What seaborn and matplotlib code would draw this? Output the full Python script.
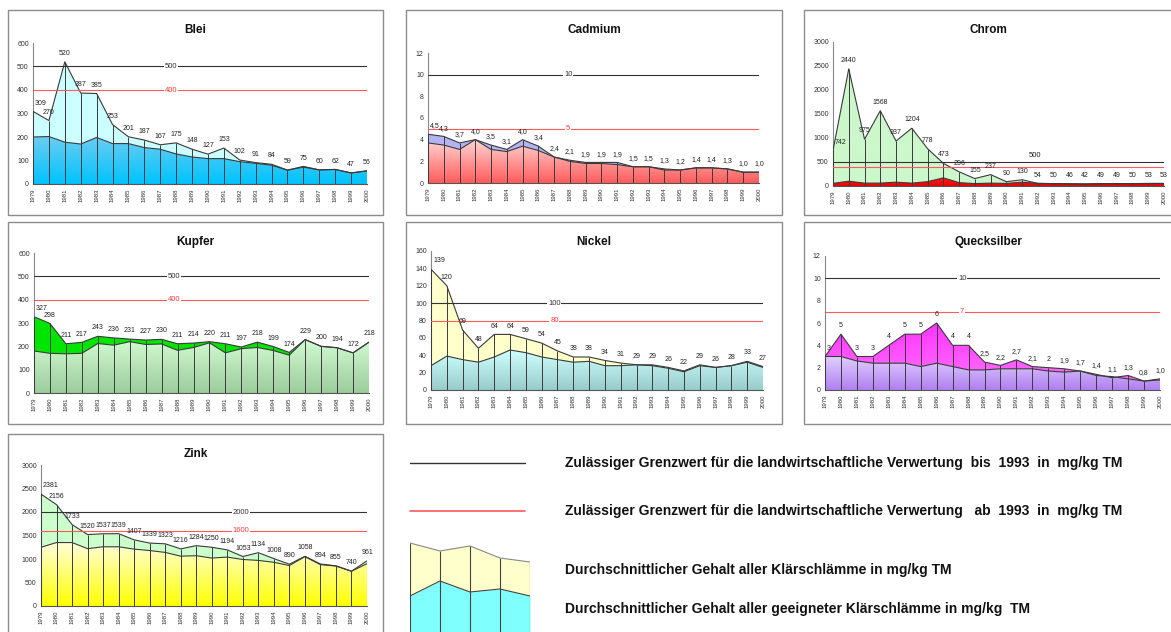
import numpy as np
import pandas as pd
import seaborn as sns
import matplotlib.pyplot as plt
from matplotlib.colors import LinearSegmentedColormap
from matplotlib.patches import Rectangle
from matplotlib.lines import Line2D

# Jahre 1979 - 2000
years = [1979, 1980, 1981, 1982, 1983, 1984, 1985, 1986, 1987, 1988, 1989,
         1990, 1991, 1992, 1993, 1994, 1995, 1996, 1997, 1998, 1999, 2000]

# Durchschnitt aller Klaerschlaemme / aller geeigneten Klaerschlaemme (mg/kg TM)
blei_alle = [309, 270, 520, 387, 385, 253, 201, 187, 167, 175, 148, 127, 153, 102, 91, 84, 59, 75, 60, 62, 47, 56]
blei_geeignet = [200, 202, 178, 170, 198, 172, 172, 155, 148, 128, 115, 108, 108, 95, 88, 80, 59, 72, 60, 62, 47, 56]

cadmium_alle = [4.5, 4.3, 3.7, 4.0, 3.5, 3.1, 4.0, 3.4, 2.4, 2.1, 1.9, 1.9, 1.9, 1.5, 1.5, 1.3, 1.2, 1.4, 1.4, 1.3, 1.0, 1.0]
cadmium_geeignet = [3.7, 3.5, 3.1, 4.0, 3.1, 2.9, 3.4, 3.0, 2.4, 2.0, 1.8, 1.8, 1.7, 1.5, 1.5, 1.2, 1.2, 1.4, 1.4, 1.3, 1.0, 1.0]

chrom_alle = [742, 2440, 975, 1568, 937, 1204, 778, 473, 296, 155, 237, 90, 130, 54, 50, 46, 42, 49, 49, 50, 53, 53]
chrom_geeignet = [55, 100, 60, 60, 80, 60, 90, 170, 70, 50, 60, 55, 80, 54, 50, 46, 42, 49, 49, 50, 53, 53]

kupfer_alle = [327, 298, 211, 217, 243, 236, 231, 227, 230, 211, 214, 220, 211, 197, 218, 199, 174, 229, 200, 194, 172, 218]
kupfer_geeignet = [180, 170, 168, 170, 212, 205, 220, 208, 210, 183, 195, 215, 172, 190, 195, 182, 162, 229, 200, 194, 172, 218]

nickel_alle = [139, 120, 69, 48, 64, 64, 59, 54, 45, 38, 38, 34, 31, 29, 29, 26, 22, 29, 26, 28, 33, 27]
nickel_geeignet = [28, 39, 35, 32, 38, 46, 43, 38, 35, 32, 33, 28, 28, 29, 28, 25, 21, 28, 26, 28, 32, 26]

quecksilber_alle = [3, 5, 3, 3, 4, 5, 5, 6, 4, 4, 2.5, 2.2, 2.7, 2.1, 2.0, 1.9, 1.7, 1.4, 1.1, 1.3, 0.8, 1.0]
quecksilber_geeignet = [3.0, 3.0, 2.6, 2.4, 2.4, 2.4, 2.1, 2.4, 2.1, 1.8, 1.8, 1.9, 1.9, 1.9, 1.7, 1.6, 1.7, 1.3, 1.2, 1.0, 0.8, 0.9]
quecksilber_labels = ['3', '5', '3', '3', '4', '5', '5', '6', '4', '4', '2,5', '2,2', '2,7', '2,1', '2',
                      '1,9', '1,7', '1,4', '1,1', '1,3', '0,8', '1,0']

zink_alle = [2381, 2156, 1733, 1520, 1537, 1539, 1407, 1339, 1323, 1216, 1284, 1250, 1194, 1053, 1134, 1008, 890, 1058, 894, 855, 740, 961]
zink_geeignet = [1250, 1350, 1350, 1220, 1260, 1260, 1210, 1180, 1140, 1060, 1070, 1020, 1040, 990, 970, 930, 860, 1050, 880, 850, 740, 900]

# Grenzwerte (bis 1993 / ab 1993)
grenz_alt = {'Blei': 500, 'Cadmium': 10, 'Chrom': 500, 'Kupfer': 500, 'Nickel': 100, 'Quecksilber': 10, 'Zink': 2000}
grenz_neu = {'Blei': 400, 'Cadmium': 5, 'Chrom': 400, 'Kupfer': 400, 'Nickel': 80, 'Quecksilber': 7, 'Zink': 1600}

# Legenden-Muster (kleines Flaechendiagramm)
muster_oben = [89, 81, 86, 74, 70]
muster_unten = [36, 51, 40, 43, 36]

legend_texts = [
    'Zulässiger Grenzwert für die landwirtschaftliche Verwertung  bis  1993  in  mg/kg TM',
    'Zulässiger Grenzwert für die landwirtschaftliche Verwertung   ab  1993  in  mg/kg TM',
    'Durchschnittlicher Gehalt aller Klärschlämme in mg/kg TM',
    'Durchschnittlicher Gehalt aller geeigneter Klärschlämme in mg/kg  TM',
]


def ganz(werte):
    return [str(int(round(v))) for v in werte]


def komma(werte):
    return [f'{v:.1f}'.replace('.', ',') for v in werte]


W, H = 1171, 632
sns.set_style('white')
plt.rcParams['font.family'] = ['Liberation Sans', 'DejaVu Sans']

fig = plt.figure(figsize=(W / 100, H / 100), dpi=100)


def verlauf(ax, x, unten, oben, farbe_oben, farbe_unten, z):
    huelle = ax.fill_between(x, unten, oben, facecolor='none', edgecolor='none')
    pfad = huelle.get_paths()[0]
    cmap = LinearSegmentedColormap.from_list('v', [farbe_oben, farbe_unten])
    bild = ax.imshow(np.linspace(0, 1, 256).reshape(-1, 1), cmap=cmap, aspect='auto',
                     extent=(x[0], x[-1], 0, float(np.max(oben))), origin='upper', zorder=z)
    bild.set_clip_path(pfad, transform=ax.transData)


def panel(name, alle, geeignet, labels, ymax, ystep, box, achse, lim_x,
          oben_farben, unten_farben, chrom_stil=False):
    bx0, by0, bx1, by1 = box
    fig.add_artist(Rectangle((bx0 / W, 1 - by1 / H), (bx1 - bx0) / W, (by1 - by0) / H,
                             transform=fig.transFigure, fill=False, ec='#8c8c8c', lw=1))
    L, T, R, B = achse
    ax = fig.add_axes([L / W, 1 - B / H, (R - L) / W, (B - T) / H])
    df = pd.DataFrame({'Jahr': years, 'alle': alle, 'geeignet': geeignet})
    x = df['Jahr'].to_numpy(float)
    a = df['alle'].to_numpy(float)
    g = df['geeignet'].to_numpy(float)

    verlauf(ax, x, g, a, *oben_farben, z=1)
    verlauf(ax, x, 0, g, *unten_farben, z=1.5)
    ax.vlines(x, 0, a, color='#3a3a3a', lw=0.7, zorder=3)
    sns.lineplot(data=df, x='Jahr', y='alle', ax=ax, color='#3a3a3a', lw=0.8, zorder=4)
    sns.lineplot(data=df, x='Jahr', y='geeignet', ax=ax, color='#3a3a3a', lw=0.8, zorder=4)

    alt, neu = grenz_alt[name], grenz_neu[name]
    ax.axhline(alt, color='#333333', lw=0.8, zorder=5)
    ax.axhline(neu, color='#ff5a5a', lw=0.8, zorder=5)
    if chrom_stil:
        ax.text(lim_x, alt + ymax * 0.02, str(alt), ha='center', va='bottom', fontsize=5.5,
                color='#222222', zorder=6)
    else:
        ax.text(lim_x, alt, str(alt), ha='center', va='center', fontsize=5.5, color='#333333',
                zorder=6, bbox=dict(fc='white', ec='none', pad=0.6))
        ax.text(lim_x, neu, str(neu), ha='center', va='center', fontsize=5.5, color='#ff3b3b',
                zorder=6, bbox=dict(fc='white', ec='none', pad=0.6))

    for i, (jahr, wert, txt) in enumerate(zip(years, a, labels)):
        if i == 0:
            ax.annotate(txt, (jahr, wert), xytext=(1.5, 3.5), textcoords='offset points',
                        ha='left', va='bottom', fontsize=5, color='#222222', zorder=7)
        else:
            ax.annotate(txt, (jahr, wert), xytext=(0, 3.5), textcoords='offset points',
                        ha='center', va='bottom', fontsize=5, color='#222222', zorder=7)

    ax.set_xlim(1979, 2000)
    ax.set_ylim(0, ymax)
    ax.set_xticks(years)
    ax.set_xticklabels([str(j) for j in years], rotation=90, fontsize=4.3, color='#333333')
    ax.set_yticks(np.arange(0, ymax + ystep / 2, ystep))
    ax.set_yticklabels([str(int(v)) for v in np.arange(0, ymax + ystep / 2, ystep)],
                       fontsize=5, color='#333333')
    ax.tick_params(axis='y', direction='inout', length=3, width=0.6, color='#555555', pad=1.5)
    ax.tick_params(axis='x', direction='out', length=2, width=0.5, color='#555555', pad=1)
    ax.set_xlabel('')
    ax.set_ylabel('')
    for s in ['top', 'right']:
        ax.spines[s].set_visible(False)
    ax.spines['left'].set_color('#888888')
    ax.spines['bottom'].set_color('#555555')
    ax.spines['left'].set_linewidth(0.8)
    ax.spines['bottom'].set_linewidth(0.8)
    ax.set_facecolor('none')
    fig.text((bx0 + bx1) / 2 / W, 1 - (by0 + 20) / H, name, ha='center', va='center',
             fontsize=8.5, fontweight='bold', color='#111111')
    return ax


panel('Blei', blei_alle, blei_geeignet, ganz(blei_alle), 600, 100,
      (8, 10, 383, 215), (33, 43, 367, 184), 1987.7,
      ('#ccffff', '#ccffff'), ('#6ccdf0', '#00c3ff'))
panel('Cadmium', cadmium_alle, cadmium_geeignet, komma(cadmium_alle), 12, 2,
      (406, 10, 782, 215), (428, 53, 759, 183), 1987.9,
      ('#b4b4f4', '#b4b4f4'), ('#ffd6d6', '#ff5c5c'))
panel('Chrom', chrom_alle, chrom_geeignet, ganz(chrom_alle), 3000, 500,
      (804, 10, 1172, 215), (833, 42, 1164, 186), 1991.8,
      ('#ccf8cc', '#ccf8cc'), ('#ff2020', '#ee0000'), chrom_stil=True)
panel('Kupfer', kupfer_alle, kupfer_geeignet, ganz(kupfer_alle), 600, 100,
      (8, 222, 383, 424), (34, 253, 369, 393), 1987.8,
      ('#00e600', '#00e600'), ('#d2fbd2', '#9ccc9c'))
panel('Nickel', nickel_alle, nickel_geeignet, ganz(nickel_alle), 160, 20,
      (406, 222, 782, 424), (431, 251, 763, 390), 1986.8,
      ('#ffffcc', '#ffffcc'), ('#d0ffff', '#98cccc'))
panel('Quecksilber', quecksilber_alle, quecksilber_geeignet, quecksilber_labels, 12, 2,
      (804, 222, 1172, 424), (825, 256, 1160, 390), 1987.6,
      ('#ff33ff', '#ff77ff'), ('#e0d0ff', '#b080f0'))
panel('Zink', zink_alle, zink_geeignet, ganz(zink_alle), 3000, 500,
      (8, 434, 383, 640), (41, 465, 367, 606), 1991.9,
      ('#ccffcc', '#ccffcc'), ('#ffffdd', '#ffff00'))

# Legende
fig.add_artist(Line2D([410 / W, 525 / W], [1 - 463 / H, 1 - 463 / H], color='#333333', lw=1,
                      transform=fig.transFigure))
fig.add_artist(Line2D([410 / W, 525 / W], [1 - 511 / H, 1 - 511 / H], color='#ff5a5a', lw=1.2,
                      transform=fig.transFigure))

lax = fig.add_axes([410 / W, 0, 120 / W, 92 / H])
mx = np.arange(len(muster_oben), dtype=float)
lax.fill_between(mx, muster_unten, muster_oben, color='#ffffcc', lw=0)
lax.fill_between(mx, 0, muster_unten, color='#80ffff', lw=0)
lax.vlines(mx, 0, muster_oben, color='#444444', lw=0.8)
lax.plot(mx, muster_oben, color='#888888', lw=0.8)
lax.plot(mx, muster_unten, color='#444444', lw=0.8)
lax.set_xlim(0, 4)
lax.set_ylim(0, 92)
lax.axis('off')

for txt, y in zip(legend_texts, [463, 511, 570, 609]):
    fig.text(565 / W, 1 - y / H, txt, ha='left', va='center', fontsize=10, fontweight='bold',
             color='#111111', family=['Liberation Sans Narrow', 'Liberation Sans', 'DejaVu Sans'])

fig.savefig('out.png', dpi=100, facecolor='white')
